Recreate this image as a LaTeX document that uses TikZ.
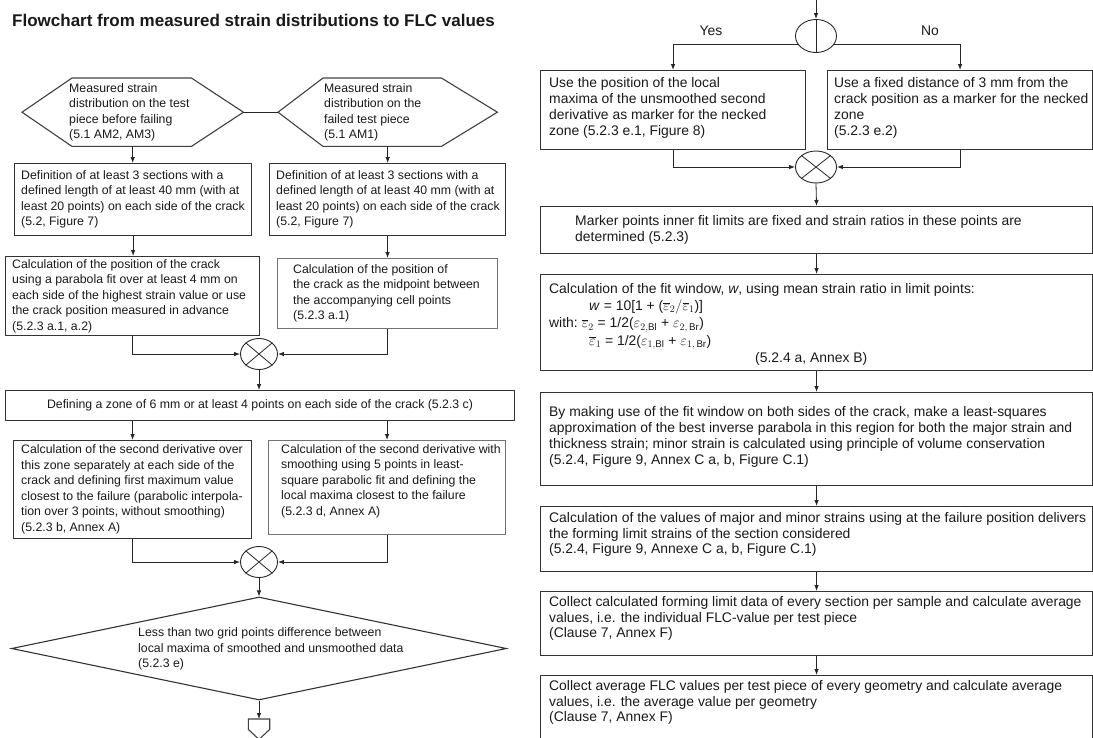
\documentclass[tikz,border=0pt]{standalone}
\usepackage{fontspec}
\setmainfont{Liberation Sans}
\usetikzlibrary{arrows.meta,shapes.geometric}
\newcommand\fL{\fontsize{12.3pt}{15.5pt}\selectfont}
\newcommand\fR{\fontsize{13.9pt}{15.8pt}\selectfont}
\begin{document}
\begin{tikzpicture}[x=1pt,y=-1pt,
  bx/.style={draw=black!80,line width=1.1pt,inner sep=0pt,anchor=north west},
  bxg/.style={bx,draw=black!55},
  hx/.style={inner sep=0pt,anchor=north west,minimum height=68pt},
  sh/.style={draw=black!75,line width=1.1pt},
  tl/.style={align=left,inner sep=0pt,font=\fL,text=black!90},
  tr/.style={align=left,inner sep=0pt,font=\fR,text=black!90},
  ln/.style={line width=0.8pt,draw=black!85},
  arr/.style={ln,-{Latex[length=6pt,width=4.5pt]}},
  mrg/.style={draw=black!85,ellipse,line width=0.9pt,inner sep=0pt,minimum width=37pt,minimum height=31pt},
]
\useasboundingbox (0,0) rectangle (1093,737);
\clip (0,0) rectangle (1093,737);

\node[anchor=base west,inner sep=0pt,font=\fontsize{17pt}{20pt}\selectfont\bfseries,text=black!90] (title) at (12,26) {Flowchart from measured strain distributions to FLC values};

% ---------------- left column ----------------
\node[hx,minimum width=221pt] (h1) at (22,78) {};
\draw[sh] (h1.west) -- ([xshift=50pt]h1.north west) -- ([xshift=-52pt]h1.north east) -- (h1.east) -- ([xshift=-52pt]h1.south east) -- ([xshift=50pt]h1.south west) -- cycle;
\node[tl,anchor=west] (h1t) at ([xshift=47pt]h1.west) {Measured strain\\distribution on the test\\piece before failing\\(5.1 AM2, AM3)};
\node[hx,minimum width=219pt] (h2) at (278,78) {};
\draw[sh] (h2.west) -- ([xshift=45pt]h2.north west) -- ([xshift=-56pt]h2.north east) -- (h2.east) -- ([xshift=-56pt]h2.south east) -- ([xshift=45pt]h2.south west) -- cycle;
\node[tl,anchor=west] (h2t) at ([xshift=46pt]h2.west) {Measured strain\\distribution on the\\failed test piece\\(5.1 AM1)};
\draw[ln] (h1.east) -- (h2.west);

\node[bx,minimum width=237pt,minimum height=72pt] (L1) at (14,163) {};
\node[tl,anchor=west] (L1t) at ([xshift=7pt]L1.west) {Definition of at least 3 sections with a\\defined length of at least 40 mm (with at\\least 20 points) on each side of the crack\\(5.2, Figure 7)};
\node[bx,minimum width=236pt,minimum height=72pt] (R1) at (269,163) {};
\node[tl,anchor=west] (R1t) at ([xshift=7pt]R1.west) {Definition of at least 3 sections with a\\defined length of at least 40 mm (with at\\least 20 points) on each side of the crack\\(5.2, Figure 7)};
\draw[arr] (h1.south) -- (h1.south |- L1.north);
\draw[arr] (h2.south) -- (h2.south |- R1.north);

\node[bx,minimum width=254pt,minimum height=79pt] (L2) at (5,256) {};
\node[tl,anchor=west] (L2t) at ([xshift=7pt]L2.west) {Calculation of the position of the crack\\using a parabola fit over at least 4 mm on\\each side of the highest strain value or use\\the crack position measured in advance\\(5.2.3 a.1, a.2)};
\node[bxg,minimum width=220pt,minimum height=70pt] (R2) at (277,258) {};
\node[tl,anchor=west] (R2t) at ([xshift=16pt]R2.west) {Calculation of the position of\\the crack as the midpoint between\\the accompanying cell points\\(5.2.3 a.1)};
\draw[arr] (L1.south) -- (L1.south |- L2.north);
\draw[arr] (R1.south) -- (R1.south |- R2.north);

\node[mrg] (m1) at (259,354) {};
\draw[ln] (m1.north west) -- (m1.south east) (m1.north east) -- (m1.south west);
\draw[arr] (L2.south) |- (m1.west);
\draw[arr] (R2.south) |- (m1.east);

\node[bx,minimum width=509pt,minimum height=30pt] (Z) at (5,390) {};
\node[tl] (Zt) at (Z.center) {Defining a zone of 6 mm or at least 4 points on each side of the crack (5.2.3 c)};
\draw[arr] (m1.south) -- (m1.south |- Z.north);

\node[bx,minimum width=238pt,minimum height=98pt] (L3) at (13,440) {};
\node[tl,anchor=west] (L3t) at ([xshift=8pt]L3.west) {Calculation of the second derivative over\\this zone separately at each side of the\\crack and defining first maximum value\\closest to the failure (parabolic interpola-\\tion over 3 points, without smoothing)\\(5.2.3 b, Annex A)};
\node[bxg,minimum width=237pt,minimum height=94pt] (R3) at (268,440) {};
\node[tl,anchor=north west] (R3t) at ([xshift=13pt,yshift=-4pt]R3.north west) {Calculation of the second derivative with\\smoothing using 5 points in least-\\square parabolic fit and defining the\\local maxima closest to the failure\\(5.2.3 d, Annex A)};
\draw[arr] (Z.south -| L3.north) -- (L3.north);
\draw[arr] (Z.south -| R3.north) -- (R3.north);

\node[mrg] (m2) at (259,562) {};
\draw[ln] (m2.north west) -- (m2.south east) (m2.north east) -- (m2.south west);
\draw[arr] (L3.south) |- (m2.west);
\draw[arr] (R3.south) |- (m2.east);

\node[draw=black!80,line width=1.1pt,diamond,minimum width=495pt,minimum height=103pt,inner sep=0pt] (D1) at (259,648.5) {};
\node[tl,anchor=west] (D1t) at (138,649) {Less than two grid points difference between\\local maxima of smoothed and unsmoothed data\\(5.2.3 e)};
\draw[arr] (m2.south) -- (D1.north);

\node[inner sep=0pt,minimum width=21pt,minimum height=10pt,anchor=north] (off) at (259,719) {};
\draw[sh] (off.north west) -- (off.north east) -- (off.south east) -- ([yshift=-10pt]off.south) -- (off.south west) -- cycle;
\draw[arr] (D1.south) -- (off.north);

% ---------------- right column ----------------
\coordinate (top) at (816,0);
\node[mrg,minimum width=41pt,minimum height=33pt] (dec) at (816,36) {};
\draw[arr] (top) -- (dec.north);
\draw[ln] (dec.north) -- (dec.south);
\node[bx,minimum width=265pt,minimum height=79pt] (RY) at (540,70) {};
\node[tr,anchor=west] (RYt) at ([xshift=9pt,yshift=2pt]RY.west) {Use the position of the local\\maxima of the unsmoothed second\\derivative as marker for the necked\\zone (5.2.3 e.1, Figure 8)};
\node[bx,minimum width=265pt,minimum height=79pt] (RN) at (827,70) {};
\node[tr,anchor=west] (RNt) at ([xshift=7pt,yshift=2pt]RN.west) {Use a fixed distance of 3 mm from the\\crack position as a marker for the necked\\zone\\(5.2.3 e.2)};
\draw[arr] (dec.204) -| (RY.north);
\draw[arr] (dec.336) -| (RN.north);
\node[tr] (yes) at (711,31) {Yes};
\node[tr] (no) at (930,31) {No};

\node[mrg,minimum width=41pt,minimum height=32pt] (m3) at (816,167) {};
\draw[ln] (m3.north west) -- (m3.south east) (m3.north east) -- (m3.south west);
\draw[arr] (RY.south) |- (m3.west);
\draw[arr] (RN.south) |- (m3.east);

\node[bx,minimum width=552pt,minimum height=47pt] (M) at (540,206) {};
\node[tr,anchor=west] (Mt) at ([xshift=35pt]M.west) {Marker points inner fit limits are fixed and strain ratios in these points are\\determined (5.2.3)};
\draw[arr] (m3.south) -- (M.north);

\node[bx,minimum width=552pt,minimum height=96pt] (W) at (540,274) {};
\node[tr,anchor=north west,font=\fontsize{13.9pt}{17.3pt}\selectfont] (Wt) at ([xshift=9pt,yshift=-9pt]W.north west) {Calculation of the fit window, \textit{w}, using mean strain ratio in limit points:\\
\hspace*{40pt}\textit{w} = 10[1 + ($\overline{\varepsilon}_2/\overline{\varepsilon}_1$)]\\
with:\hspace*{4pt}$\overline{\varepsilon}_2$ = 1/2($\varepsilon_{2,\mathrm{Bl}}$ + $\varepsilon_{2,\,\mathrm{Br}}$)\\
\hspace*{40pt}$\overline{\varepsilon}_1$ = 1/2($\varepsilon_{1,\mathrm{Bl}}$ + $\varepsilon_{1,\,\mathrm{Br}}$)\\
\hspace*{206pt}(5.2.4 a, Annex B)};
\draw[arr] (M.south) -- (W.north);

\node[bx,minimum width=552pt,minimum height=93pt] (B) at (540,392) {};
\node[tr,anchor=west] (Bt) at ([xshift=9pt,yshift=2pt]B.west) {By making use of the fit window on both sides of the crack, make a least-squares\\approximation of the best inverse parabola in this region for both the major strain and\\thickness strain; minor strain is calculated using principle of volume conservation\\(5.2.4, Figure 9, Annex C a, b, Figure C.1)};
\draw[arr] (W.south) -- (B.north);

\node[bx,minimum width=552pt,minimum height=65pt] (C) at (540,506) {};
\node[tr,anchor=north west] (Ct) at ([xshift=9pt,yshift=-6pt]C.north west) {Calculation of the values of major and minor strains using at the failure position delivers\\the forming limit strains of the section considered\\(5.2.4, Figure 9, Annexe C a, b, Figure C.1)};
\draw[arr] (B.south) -- (C.north);

\node[bx,minimum width=552pt,minimum height=64pt] (D) at (540,591) {};
\node[tr,anchor=north west] (Dt) at ([xshift=9pt,yshift=-5pt]D.north west) {Collect calculated forming limit data of every section per sample and calculate average\\values, i.e. the individual FLC-value per test piece\\(Clause 7, Annex F)};
\draw[arr] (C.south) -- (D.north);

\node[bx,minimum width=552pt,minimum height=72pt] (E) at (540,675) {};
\node[tr,anchor=north west] (Et) at ([xshift=9pt,yshift=-5pt]E.north west) {Collect average FLC values per test piece of every geometry and calculate average\\values, i.e. the average value per geometry\\(Clause 7, Annex F)};
\draw[arr] (D.south) -- (E.north);
\end{tikzpicture}
\end{document}
